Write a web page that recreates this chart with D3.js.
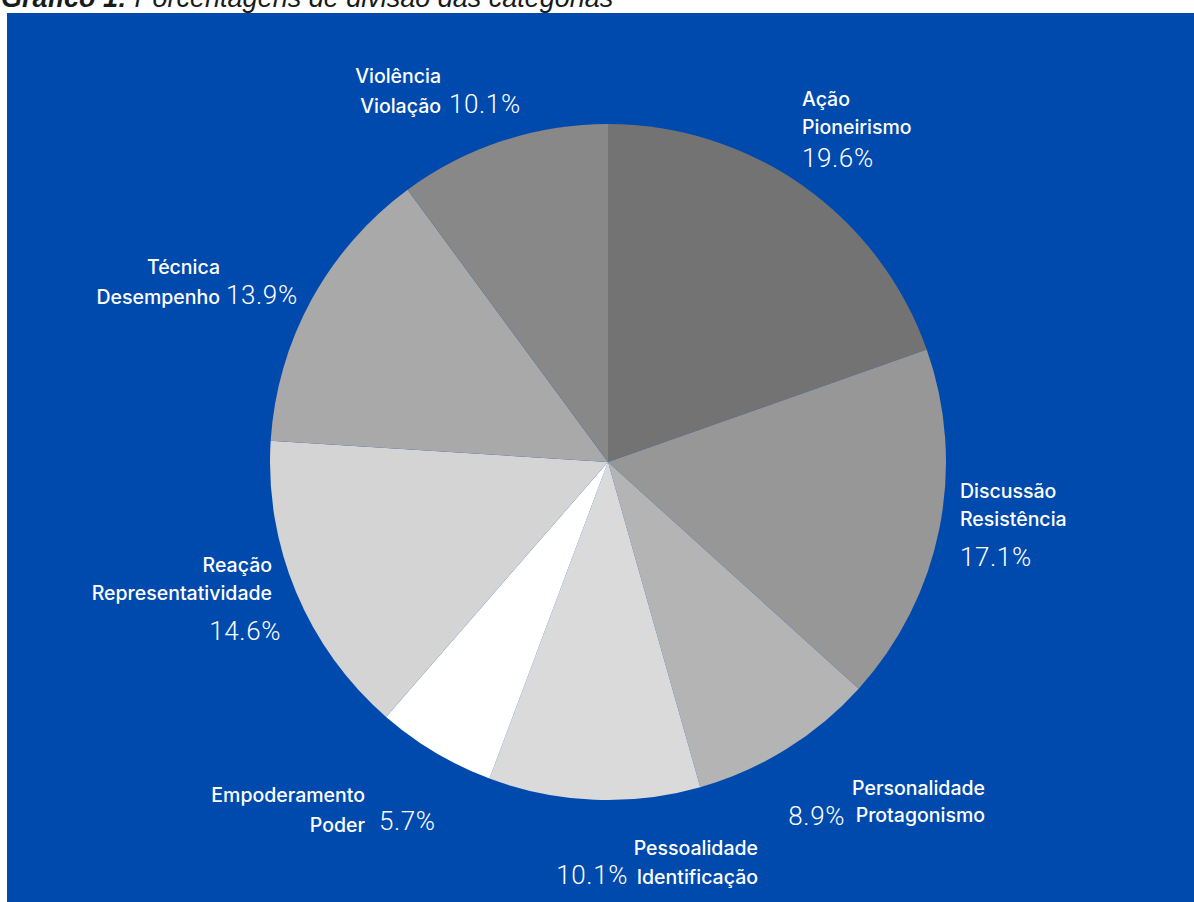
<!DOCTYPE html>
<html lang="pt">
<head>
<meta charset="utf-8">
<script src="https://cdn.jsdelivr.net/npm/d3@7"></script>
<style>
  html, body { margin: 0; padding: 0; background: #ffffff; }
  svg { display: block; }
</style>
</head>
<body>
<svg id="chart" width="1194" height="902"></svg>
<script>
// Category names (two lines each), shares in percent and slice fills
const nameLine1 = ["Ação", "Discussão", "Personalidade", "Pessoalidade", "Empoderamento", "Reação", "Técnica", "Violência"];
const nameLine2 = ["Pioneirismo", "Resistência", "Protagonismo", "Identificação", "Poder", "Representatividade", "Desempenho", "Violação"];
const shares = [19.6, 17.1, 8.9, 10.1, 5.7, 14.6, 13.9, 10.1];
const sliceColors = ["#737373", "#979797", "#b4b4b4", "#dadada", "#ffffff", "#d4d4d4", "#a9a9a9", "#888888"];

// Placement of each category's label block: name lines and percentage
const labelLayout = [
  { n1: [802, 106, "start"], n2: [802, 134, "start"], p: [802, 167, "start"] },
  { n1: [960, 498, "start"], n2: [960, 526, "start"], p: [960, 566, "start"] },
  { n1: [985, 795, "end"],   n2: [985, 822, "end"],   p: [845, 825, "end"] },
  { n1: [758, 855, "end"],   n2: [758, 884, "end"],   p: [628, 884, "end"] },
  { n1: [365, 802, "end"],   n2: [365, 832, "end"],   p: [379, 830, "start"] },
  { n1: [272, 572, "end"],   n2: [272, 600, "end"],   p: [281, 640, "end"] },
  { n1: [220, 274, "end"],   n2: [220, 304, "end"],   p: [226, 304, "start"] },
  { n1: [441, 83, "end"],    n2: [441, 113, "end"],   p: [449, 113, "start"] }
];

const W = 1194, H = 902;
const svg = d3.select("#chart");

// Caption above the panel
const title = svg.append("text")
  .attr("x", 1).attr("y", 7)
  .attr("font-family", "'Liberation Sans', Arial, sans-serif")
  .attr("font-size", 27)
  .attr("font-style", "italic")
  .attr("fill", "#1a1a1a");
title.append("tspan").attr("font-weight", "bold").text("Gráfico 1:");
title.append("tspan").text(" Porcentagens de divisão das categorias");

// Blue panel
svg.append("rect")
  .attr("x", 7).attr("y", 13)
  .attr("width", W - 7).attr("height", H - 13)
  .attr("fill", "#004aad");

// Pie
const cx = 608, cy = 462, radius = 338;
const pie = d3.pie().sort(null).value(d => d)(shares);
const arc = d3.arc().innerRadius(0).outerRadius(radius);

svg.append("g")
  .attr("transform", `translate(${cx},${cy})`)
  .selectAll("path")
  .data(pie)
  .join("path")
  .attr("d", arc)
  .attr("fill", (d, i) => sliceColors[i]);

// Labels
const labels = svg.append("g").attr("fill", "#ffffff");
labelLayout.forEach((L, i) => {
  const nameText = (pos, str) => labels.append("text")
    .attr("x", pos[0]).attr("y", pos[1])
    .attr("text-anchor", pos[2])
    .attr("font-family", "Inter, 'Noto Sans', sans-serif")
    .attr("font-weight", 500)
    .attr("font-size", 19.5)
    .text(str);
  nameText(L.n1, nameLine1[i]);
  nameText(L.n2, nameLine2[i]);
  labels.append("text")
    .attr("x", L.p[0]).attr("y", L.p[1])
    .attr("text-anchor", L.p[2])
    .attr("font-family", "Roboto, 'Noto Sans', sans-serif")
    .attr("font-weight", 300)
    .attr("font-size", 26)
    .attr("letter-spacing", 0.6)
    .text(shares[i].toFixed(1) + "%");
});
</script>
</body>
</html>
